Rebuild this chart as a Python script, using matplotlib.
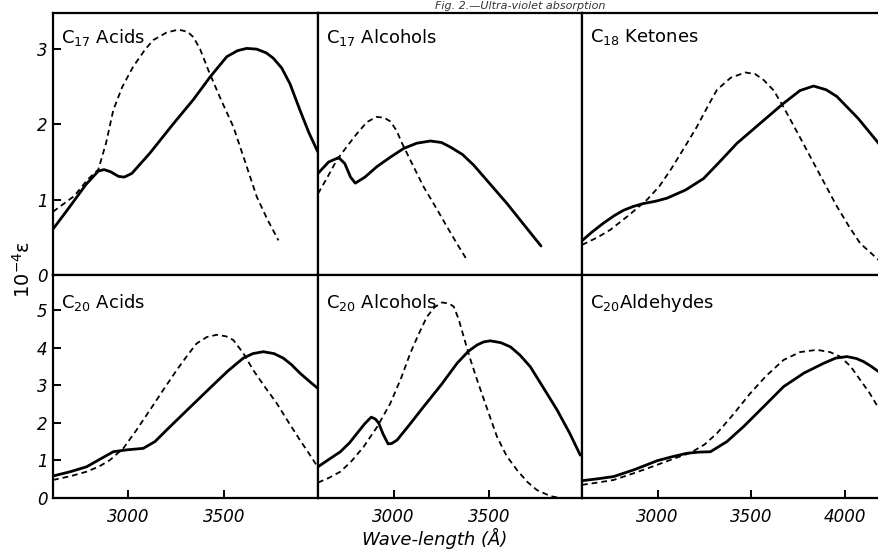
import matplotlib
matplotlib.use("Agg")
import matplotlib.pyplot as plt

plt.rcParams["font.family"] = ["DejaVu Sans"]
plt.rcParams["mathtext.fontset"] = "dejavusans"

# panel names (row by row)
titles = [r"C$_{17}$ Acids", r"C$_{17}$ Alcohols", r"C$_{18}$ Ketones",
          r"C$_{20}$ Acids", r"C$_{20}$ Alcohols", r"C$_{20}$Aldehydes"]

# C17 acids
acid17_solid_x = [2609, 2700, 2780, 2845, 2875, 2910, 2950, 2980, 3020, 3114, 3236, 3340,
                  3427, 3514, 3570, 3618, 3670, 3720, 3756, 3800, 3843, 3895, 3940, 3987]
acid17_solid_y = [0.61, 0.92, 1.20, 1.38, 1.40, 1.37, 1.31, 1.30, 1.35, 1.62, 2.01, 2.33,
                  2.63, 2.90, 2.98, 3.01, 3.00, 2.95, 2.88, 2.75, 2.54, 2.19, 1.90, 1.64]
acid17_dash_x = [2609, 2720, 2790, 2845, 2885, 2923, 2970, 3027, 3090, 3131, 3200, 3262,
                 3310, 3340, 3375, 3418, 3480, 3548, 3610, 3670, 3725, 3783]
acid17_dash_y = [0.84, 1.05, 1.27, 1.40, 1.75, 2.19, 2.50, 2.77, 3.00, 3.12, 3.22, 3.26,
                 3.23, 3.16, 3.00, 2.72, 2.35, 1.97, 1.50, 1.04, 0.74, 0.46]

# C17 alcohols
alc17_solid_x = [2605, 2660, 2713, 2745, 2775, 2800, 2850, 2913, 2980, 3052, 3120, 3192,
                 3250, 3296, 3360, 3418, 3500, 3592, 3680, 3770]
alc17_solid_y = [1.35, 1.50, 1.56, 1.48, 1.30, 1.22, 1.30, 1.44, 1.56, 1.68, 1.75, 1.78,
                 1.76, 1.70, 1.60, 1.46, 1.22, 0.95, 0.67, 0.385]
alc17_dash_x = [2605, 2650, 2704, 2760, 2809, 2860, 2910, 2950, 2983, 3015, 3044, 3100,
                3157, 3220, 3279, 3330, 3383]
alc17_dash_y = [1.08, 1.28, 1.53, 1.72, 1.88, 2.03, 2.10, 2.09, 2.04, 1.92, 1.75, 1.46,
                1.17, 0.90, 0.64, 0.42, 0.20]

# C18 ketones
ket18_solid_x = [2597, 2650, 2712, 2770, 2819, 2870, 2926, 2990, 3050, 3150, 3245, 3330,
                 3424, 3550, 3672, 3760, 3832, 3900, 3957, 4070, 4179, 4250]
ket18_solid_y = [0.455, 0.57, 0.69, 0.79, 0.86, 0.91, 0.95, 0.98, 1.02, 1.13, 1.28, 1.50,
                 1.75, 2.02, 2.28, 2.45, 2.51, 2.46, 2.37, 2.08, 1.75, 1.50]
ket18_dash_x = [2597, 2680, 2748, 2850, 2944, 3010, 3068, 3140, 3210, 3270, 3317, 3390,
                3468, 3520, 3566, 3620, 3672, 3740, 3815, 3890, 3957, 4020, 4081, 4179]
ket18_dash_y = [0.40, 0.50, 0.60, 0.80, 1.00, 1.18, 1.39, 1.68, 1.97, 2.25, 2.46, 2.62,
                2.69, 2.67, 2.59, 2.45, 2.23, 1.92, 1.57, 1.22, 0.91, 0.65, 0.42, 0.20]

# C20 acids
acid20_solid_x = [2609, 2700, 2784, 2860, 2923, 2993, 3079, 3140, 3201, 3320, 3444, 3520,
                  3600, 3650, 3704, 3760, 3808, 3850, 3895, 3940, 3987]
acid20_solid_y = [0.585, 0.70, 0.83, 1.05, 1.23, 1.28, 1.32, 1.50, 1.81, 2.40, 3.01, 3.38,
                  3.72, 3.84, 3.89, 3.84, 3.72, 3.55, 3.32, 3.12, 2.92]
acid20_dash_x = [2609, 2700, 2784, 2850, 2906, 2975, 3040, 3114, 3180, 3253, 3310, 3357,
                 3410, 3462, 3510, 3548, 3600, 3652, 3710, 3774, 3830, 3895, 3940, 3987]
acid20_dash_y = [0.48, 0.58, 0.70, 0.84, 1.01, 1.32, 1.78, 2.34, 2.85, 3.40, 3.80, 4.11,
                 4.28, 4.34, 4.30, 4.20, 3.85, 3.40, 2.97, 2.52, 2.06, 1.54, 1.20, 0.83]

# C20 alcohols
alc20_solid_x = [2605, 2660, 2722, 2770, 2809, 2850, 2883, 2905, 2922, 2945, 2971, 2990,
                 3018, 3080, 3157, 3250, 3331, 3390, 3436, 3470, 3505, 3560, 3610, 3660,
                 3714, 3780, 3854, 3920, 3975]
alc20_solid_y = [0.83, 1.02, 1.23, 1.47, 1.72, 1.98, 2.15, 2.10, 1.99, 1.70, 1.44, 1.45,
                 1.54, 1.93, 2.43, 3.02, 3.58, 3.90, 4.07, 4.15, 4.18, 4.13, 4.02, 3.80,
                 3.49, 2.95, 2.34, 1.72, 1.14]
alc20_dash_x = [2605, 2660, 2722, 2780, 2843, 2915, 2983, 3040, 3087, 3130, 3174, 3215,
                3253, 3290, 3314, 3340, 3366, 3400, 3436, 3490, 3540, 3590, 3645, 3700,
                3749, 3819, 3870]
alc20_dash_y = [0.41, 0.53, 0.70, 0.98, 1.36, 1.90, 2.52, 3.20, 3.85, 4.35, 4.82, 5.08,
                5.20, 5.17, 5.09, 4.75, 4.29, 3.70, 3.14, 2.35, 1.63, 1.12, 0.74, 0.42,
                0.21, 0.05, 0.0]

# C20 aldehydes
ald20_solid_x = [2597, 2680, 2766, 2880, 2997, 3080, 3157, 3220, 3282, 3370, 3459, 3570,
                 3672, 3780, 3885, 3950, 4010, 4060, 4098, 4140, 4179, 4250]
ald20_solid_y = [0.46, 0.51, 0.57, 0.76, 0.99, 1.10, 1.19, 1.22, 1.23, 1.50, 1.90, 2.45,
                 2.96, 3.32, 3.58, 3.72, 3.76, 3.71, 3.63, 3.50, 3.36, 3.00]
ald20_dash_x = [2597, 2680, 2766, 2880, 2997, 3100, 3175, 3250, 3317, 3400, 3494, 3580,
                3672, 3760, 3850, 3920, 3974, 4030, 4081, 4130, 4179, 4250]
ald20_dash_y = [0.35, 0.41, 0.48, 0.67, 0.88, 1.07, 1.20, 1.42, 1.72, 2.20, 2.78, 3.25,
                3.67, 3.88, 3.94, 3.88, 3.76, 3.50, 3.14, 2.80, 2.39, 1.80]

solid = [(acid17_solid_x, acid17_solid_y), (alc17_solid_x, alc17_solid_y),
         (ket18_solid_x, ket18_solid_y), (acid20_solid_x, acid20_solid_y),
         (alc20_solid_x, alc20_solid_y), (ald20_solid_x, ald20_solid_y)]
dashed = [(acid17_dash_x, acid17_dash_y), (alc17_dash_x, alc17_dash_y),
          (ket18_dash_x, ket18_dash_y), (acid20_dash_x, acid20_dash_y),
          (alc20_dash_x, alc20_dash_y), (ald20_dash_x, ald20_dash_y)]

top_yticks = [0, 1, 2, 3]
bottom_yticks = [0, 1, 2, 3, 4, 5]

W, H = 879, 550
fig = plt.figure(figsize=(W / 100, H / 100), dpi=100)

# panel frames in pixels: left, right ; rows: top, bottom
cols = [(53, 318), (318, 582), (582, 920)]
xlims = [(2609, 3989), (2605, 3984), (2597, 4400)]
rows = [(13, 275), (275, 498)]
ylims = [(0, 3.48), (0, 5.93)]

for i in range(6):
    r, c = divmod(i, 3)
    x0, x1 = cols[c]
    y0, y1 = rows[r]
    ax = fig.add_axes([x0 / W, 1 - y1 / H, (x1 - x0) / W, (y1 - y0) / H])
    ax.set_xlim(*xlims[c])
    ax.set_ylim(*ylims[r])
    for s in ax.spines.values():
        s.set_linewidth(1.6)

    sx, sy = solid[i]
    dx, dy = dashed[i]
    ax.plot(sx, sy, color="black", lw=2.0, solid_joinstyle="round",
            solid_capstyle="round")
    ax.plot(dx, dy, color="black", lw=1.3, dashes=(3.2, 2.2))

    ax.annotate(titles[i], xy=(0, 1), xycoords="axes fraction",
                xytext=(6, -10 if r == 0 else -12), textcoords="offset points",
                ha="left", va="top", fontsize=13)

    ax.tick_params(direction="in", length=6, width=1.4, labelsize=12, pad=4)
    if c == 0:
        ax.set_yticks(top_yticks if r == 0 else bottom_yticks)
        for lab in ax.get_yticklabels():
            lab.set_style("italic")
    else:
        ax.set_yticks([])
    if r == 1:
        ax.set_xticks([3000, 3500, 4000] if c == 2 else [3000, 3500])
        ax.tick_params(axis="x", pad=7)
        for lab in ax.get_xticklabels():
            lab.set_style("italic")
    else:
        ax.set_xticks([])

fig.text(23 / W, 1 - 270 / H, "10$^{-4}$ε", rotation=90,
         ha="center", va="center", fontsize=14)
fig.text(435 / W, 1 - 538 / H, "Wave-length (Å)", style="italic",
         ha="center", va="center", fontsize=13)
fig.text(520 / W, 1 - 1 / H, "Fig. 2.—Ultra-violet absorption", style="italic",
         ha="center", va="top", fontsize=8, color="#333333")

fig.savefig("out.png", dpi=100)
